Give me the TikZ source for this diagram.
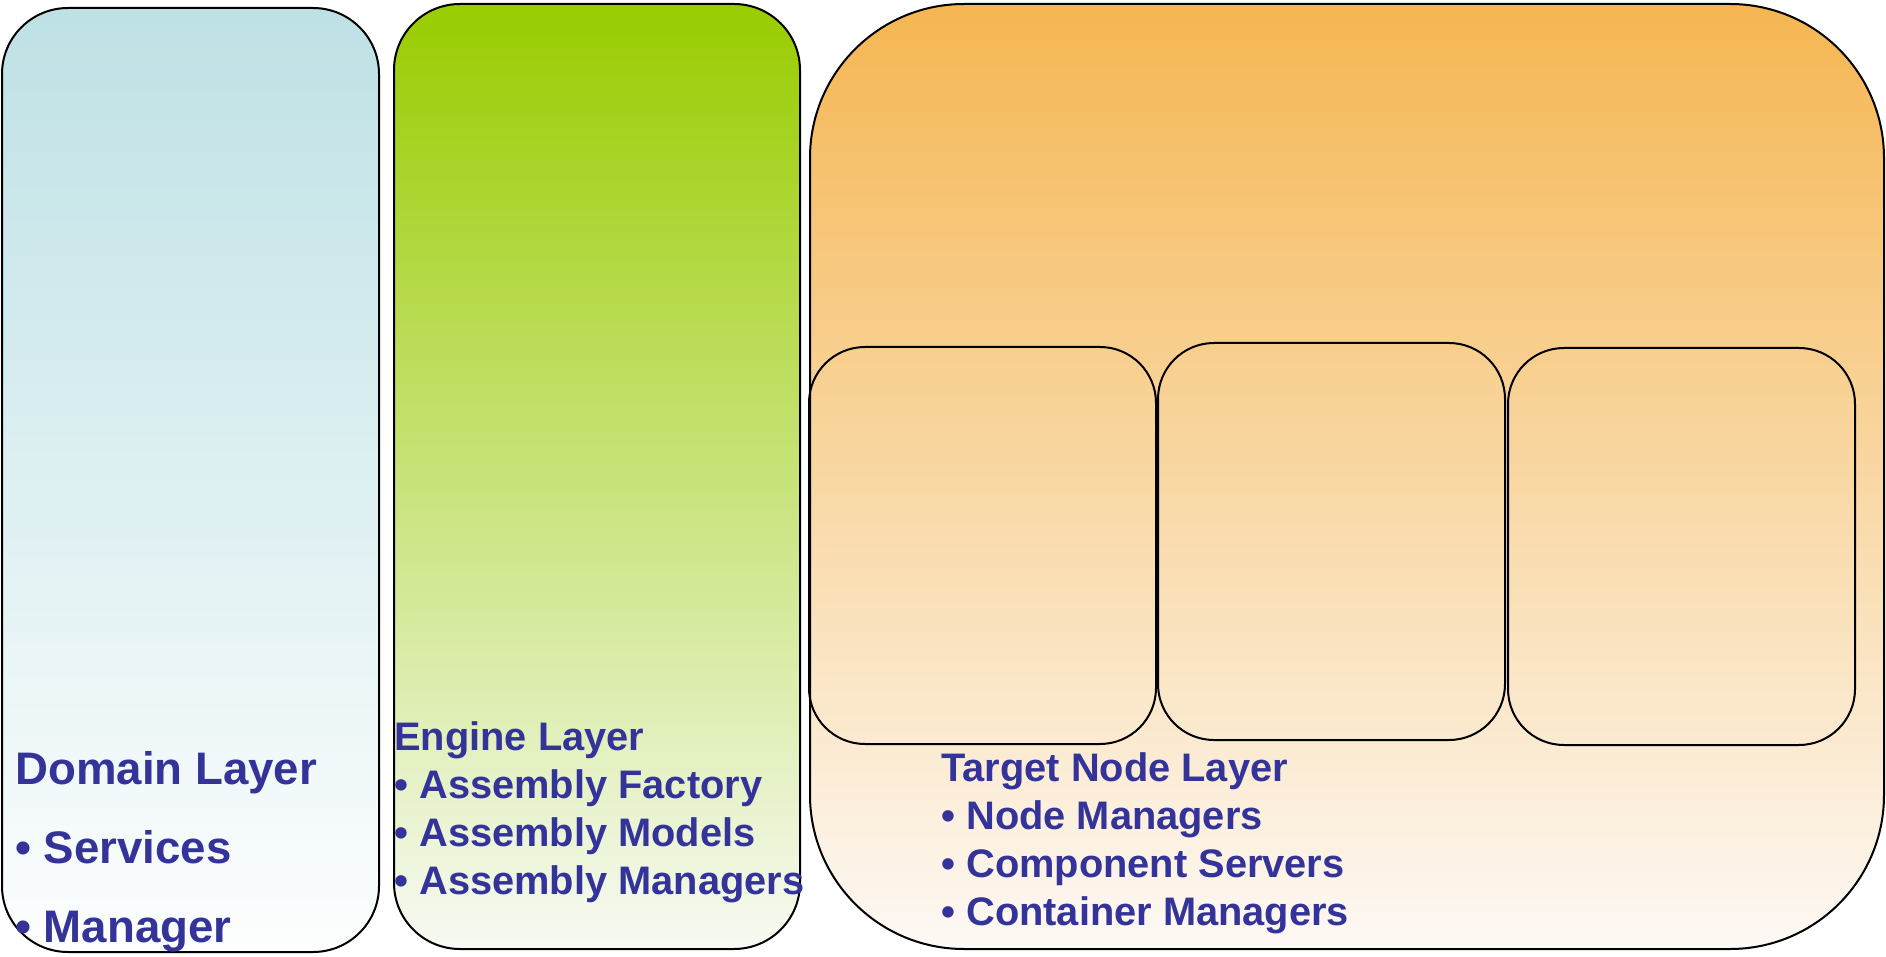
\documentclass[tikz,border=0pt]{standalone}
\usepackage{fontspec}
\setmainfont{Liberation Sans}
\usetikzlibrary{positioning}
\definecolor{layerblue}{RGB}{51,51,153}
\definecolor{domaintop}{RGB}{190,225,229}
\definecolor{domainbot}{RGB}{253,254,254}
\definecolor{enginetop}{RGB}{153,204,0}
\definecolor{enginebot}{RGB}{247,250,243}
\definecolor{targettop}{RGB}{245,182,82}
\definecolor{targetbot}{RGB}{253,249,245}
\tikzstyle{layer}=[draw=black,line width=1pt,rounded corners=33pt,anchor=north west,
inner sep=0pt,minimum height=472.5pt]
\tikzstyle{slot}=[draw=black,line width=1pt,rounded corners=28pt,anchor=north west,
inner sep=0pt,minimum width=173.5pt,minimum height=198.5pt]
\tikzstyle{caption}=[anchor=base west,align=left,text=layerblue,inner sep=0pt]

\begin{document}
\begin{tikzpicture}[x=0.5pt,y=-0.5pt]
            \useasboundingbox (0,0) rectangle (1886,957);

            % LAYERS

            \node[layer,minimum width=188.5pt,minimum height=472pt,
                top color=domaintop,bottom color=domainbot] (l1) at (1,7) {};
            \node[layer,minimum width=203pt,
                top color=enginetop,bottom color=enginebot] (l2) at (393,3) {};
            \node[layer,minimum width=537pt,rounded corners=77pt,
                top color=targettop,bottom color=targetbot] (l3) at (809,3) {};

            % NODES INSIDE TARGET LAYER

            \node[slot] (n1) at (808,346) {};
            \node[slot] (n2) at (1157,342) {};
            \node[slot] (n3) at (1507,347) {};

            % TEXTS (anchored at the last baseline)

            \node[caption,font=\bfseries\fontsize{22.8}{39.5}\selectfont] (t1) at (15,942)
                {Domain Layer\\• Services\\• Manager};
            \node[caption,font=\bfseries\fontsize{19.9}{24}\selectfont] (t2) at (394,894)
                {Engine Layer\\• Assembly Factory\\• Assembly Models\\• Assembly Managers};
            \node[caption,font=\bfseries\fontsize{19.9}{24}\selectfont] (t3) at (941,925)
                {Target Node Layer\\• Node Managers\\• Component Servers\\• Container Managers};

        \end{tikzpicture}
\end{document}
